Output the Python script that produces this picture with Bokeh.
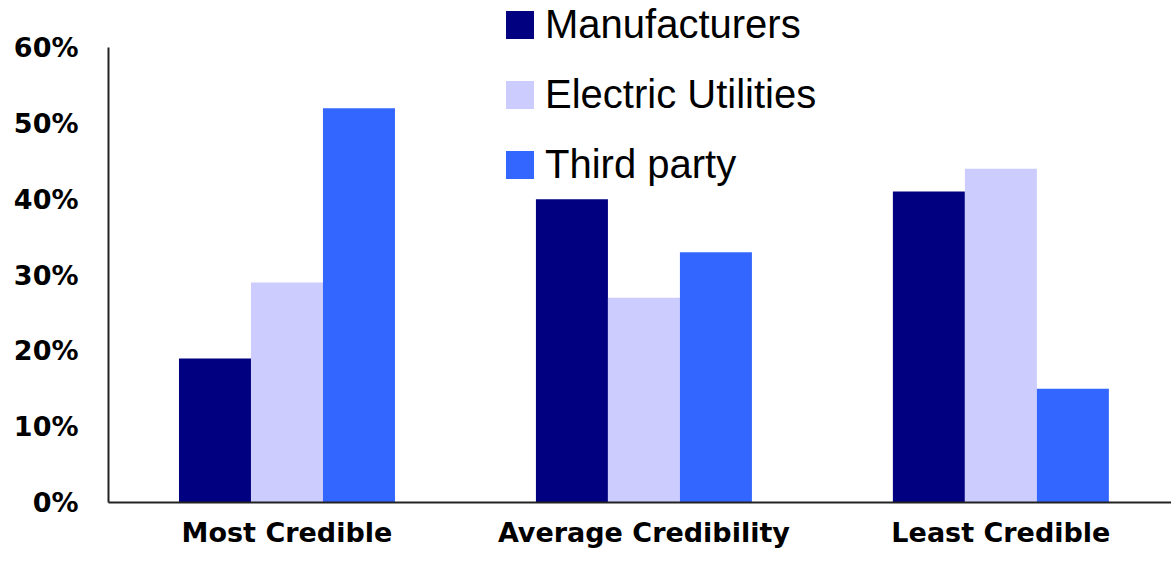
from bokeh.plotting import figure
from bokeh.models import (Range1d, FixedTicker, NumeralTickFormatter, Legend,
                          LegendItem, ColumnDataSource)
from bokeh.transform import dodge
from bokeh.embed import file_html
from bokeh.resources import INLINE

# Survey shares by credibility rating
categories = ["Most Credible", "Average Credibility", "Least Credible"]
manufacturers = [0.19, 0.40, 0.41]
electric_utilities = [0.29, 0.27, 0.44]
third_party = [0.52, 0.33, 0.15]
y_ticks = [0.0, 0.1, 0.2, 0.3, 0.4, 0.5, 0.6]

series_names = ["Manufacturers", "Electric Utilities", "Third party"]
series_colors = ["#000080", "#CCCCFF", "#3366FF"]

centers = [i + 0.5 for i in range(len(categories))]
source = ColumnDataSource(dict(
    x=centers,
    manufacturers=manufacturers,
    electric_utilities=electric_utilities,
    third_party=third_party,
))

W, H = 1171, 561
# plot area reaches the top edge so the legend can sit above the 60% line;
# the value axis itself stops at 60%
y_top = 0.6 * 502 / 455
p = figure(width=W, height=H, output_backend="svg", toolbar_location=None,
           x_range=Range1d(0, 2.978), y_range=Range1d(0, y_top),
           min_border_left=108, min_border_right=0,
           min_border_top=0, min_border_bottom=59)
p.outline_line_color = None
p.xgrid.visible = False
p.ygrid.visible = False
p.background_fill_color = "white"
p.border_fill_color = "white"

bar_w = 0.2017
renderers = []
for k, (col, name, color) in enumerate(zip(
        ["manufacturers", "electric_utilities", "third_party"],
        series_names, series_colors)):
    r = p.vbar(x=dodge("x", (k - 1) * bar_w, range=p.x_range), top=col,
               width=bar_w, bottom=0, source=source,
               fill_color=color, line_color=None)
    renderers.append(r)

# Axes
yax = p.yaxis[0]
yax.bounds = (0, 0.6)
yax.ticker = FixedTicker(ticks=y_ticks)
yax.formatter = NumeralTickFormatter(format="0%")
yax.major_label_text_font = "DejaVu Sans"
yax.major_label_text_font_style = "bold"
yax.major_label_text_font_size = "27px"
yax.major_label_text_color = "black"
yax.major_tick_line_color = None
yax.minor_tick_line_color = None
yax.major_label_standoff = 24
yax.axis_line_color = "#222222"
yax.axis_line_width = 2

xax = p.xaxis[0]
xax.ticker = FixedTicker(ticks=centers)
xax.major_label_overrides = {c: lab for c, lab in zip(centers, categories)}
xax.major_label_text_font = "DejaVu Sans"
xax.major_label_text_font_style = "bold"
xax.major_label_text_font_size = "27px"
xax.major_label_text_color = "black"
xax.major_tick_line_color = None
xax.minor_tick_line_color = None
xax.major_label_standoff = 8
xax.axis_line_color = "#222222"
xax.axis_line_width = 2

legend = Legend(
    items=[LegendItem(label=n, renderers=[r]) for n, r in zip(series_names, renderers)],
    location=(394, 315),
    orientation="vertical",
    glyph_width=35, glyph_height=35,
    label_height=42, label_standoff=8,
    spacing=25, padding=0, margin=0,
    label_text_font="Liberation Sans",
    label_text_font_size="40px",
    label_text_color="black",
    border_line_alpha=0, background_fill_alpha=0,
)
p.add_layout(legend, "center")

open("out.html", "w").write(file_html(p, INLINE))
